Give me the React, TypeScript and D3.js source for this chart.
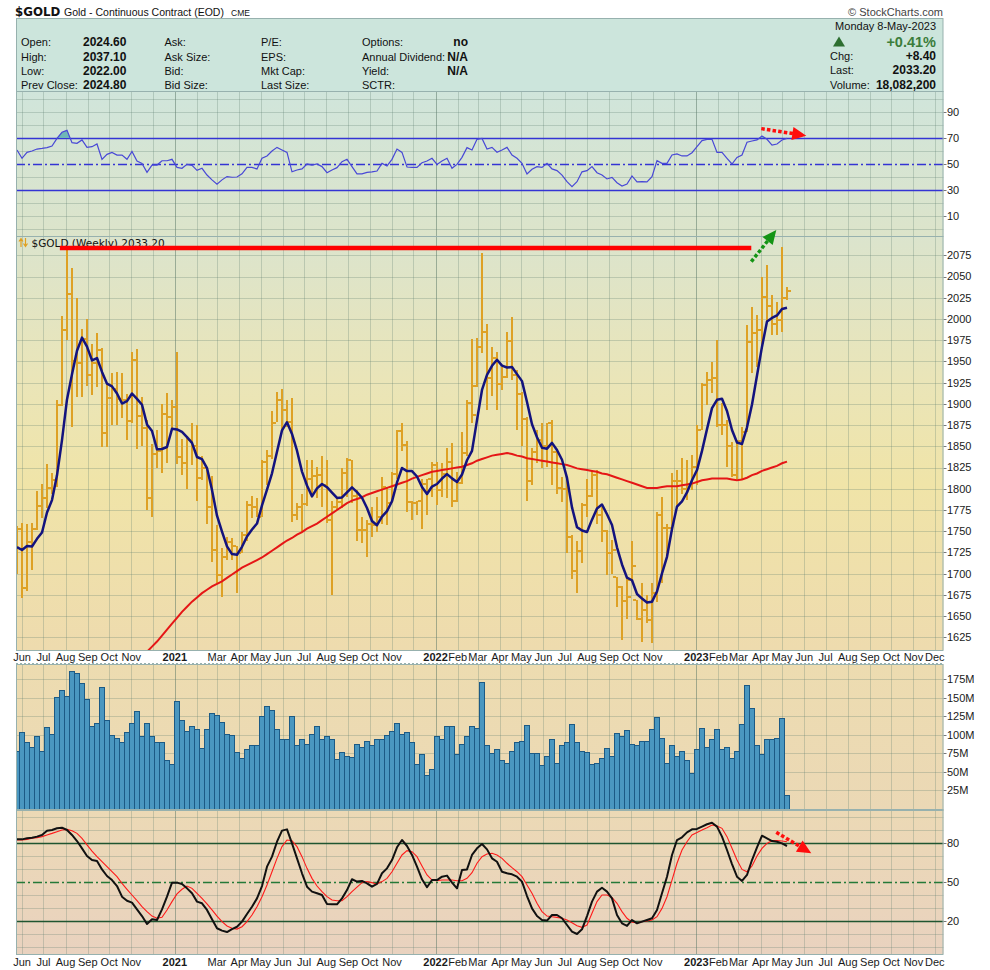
import React from "react";
import * as d3 from "d3";

// ---------- DATA (weekly bars, first week starting 2020-05-25) ----------
const FIRST_WEEK = "2020-05-25";

const opens = [1735,1752,1683,1737,1753,1780,1789,1801,1810,1899,
1987,2029,1950,1948,1976,1934,1948,1964,1866,1907,
1918,1906,1905,1880,1952,1886,1872,1789,1841,1844,
1888,1884,1896,1837,1830,1857,1850,1813,1824,1778,
1728,1698,1720,1737,1732,1724,1745,1781,1778,1767,
1831,1838,1877,1905,1893,1879,1769,1778,1782,1811,
1815,1816,1804,1763,1779,1784,1819,1834,1792,1751,
1751,1759,1757,1767,1802,1783,1817,1868,1852,1784,
1783,1785,1806,1811,1828,1798,1817,1832,1786,1807,
1842,1901,1921,1967,1985,1931,1954,1923,1932,1974,
1934,1912,1882,1809,1843,1857,1850,1877,1843,1801,
1800,1743,1703,1727,1781,1791,1816,1769,1750,1724,
1696,1684,1668,1692,1669,1647,1657,1645,1677,1769,
1754,1754,1809,1809,1800,1806,1826,1869,1922,1928,
1930,1875,1875,1850,1816,1856,1867,1973,1984,1987,
2026,2015,1994,1999,2024.6];

const highs = [1756,1760,1759,1760,1797,1806,1829,1819,1904,2004,
2081,2060,2025,1988,2000,1971,1983,1966,1924,1936,
1938,1936,1912,1961,1965,1908,1881,1853,1869,1900,
1913,1905,1961,1859,1862,1878,1875,1838,1826,1815,
1757,1730,1743,1742,1732,1749,1785,1792,1789,1834,
1846,1891,1914,1918,1905,1907,1783,1794,1834,1834,
1826,1838,1834,1786,1790,1824,1836,1834,1798,1767,
1763,1779,1790,1814,1802,1820,1869,1878,1856,1786,
1786,1812,1812,1832,1832,1830,1848,1854,1820,1867,
1904,1976,1977,2078,1994,1967,1961,1944,1985,2002,
1940,1914,1885,1848,1869,1877,1877,1881,1845,1814,
1814,1745,1738,1783,1812,1822,1822,1779,1751,1740,
1696,1686,1696,1738,1669,1689,1675,1689,1773,1790,
1759,1818,1822,1836,1834,1840,1875,1924,1938,1949,
1975,1901,1881,1855,1858,1873,1993,2014,2005,2050,
2064,2028,2020,2085,2037.1];

const lows = [1700,1671,1680,1704,1751,1765,1777,1794,1802,1898,
1975,1873,1908,1908,1921,1910,1920,1849,1849,1875,
1875,1883,1857,1878,1847,1850,1775,1767,1824,1819,
1830,1869,1829,1816,1800,1828,1785,1810,1759,1714,
1689,1673,1716,1716,1677,1724,1738,1765,1767,1767,
1804,1835,1879,1869,1873,1761,1763,1749,1780,1791,
1789,1779,1760,1675,1775,1777,1790,1783,1738,1736,
1720,1743,1749,1759,1757,1783,1812,1844,1773,1763,
1769,1752,1769,1790,1781,1790,1789,1779,1784,1806,
1838,1877,1920,1960,1893,1909,1893,1916,1930,1928,
1869,1850,1785,1805,1830,1824,1826,1804,1794,1784,
1724,1694,1677,1712,1767,1790,1759,1737,1698,1700,
1661,1622,1647,1690,1645,1620,1642,1618,1667,1689,
1718,1749,1777,1794,1787,1798,1804,1869,1899,1913,
1873,1863,1826,1814,1812,1812,1867,1936,1944,1965,
1996,1981,1981,1985,2022];

const closes = [1752,1683,1737,1753,1780,1789,1801,1810,1899,1987,
2029,1950,1948,1976,1934,1948,1964,1866,1907,1918,
1906,1905,1880,1952,1886,1872,1789,1841,1844,1888,
1884,1896,1837,1830,1857,1850,1813,1824,1778,1728,
1698,1720,1737,1732,1724,1745,1781,1778,1767,1831,
1838,1877,1905,1893,1879,1769,1778,1782,1811,1815,
1816,1804,1763,1779,1784,1819,1834,1792,1751,1751,
1759,1757,1767,1802,1783,1817,1868,1852,1784,1783,
1785,1806,1811,1828,1798,1817,1832,1786,1807,1842,
1901,1887,1967,1985,1931,1954,1923,1932,1974,1934,
1912,1882,1809,1843,1857,1850,1877,1843,1801,1800,
1743,1703,1727,1781,1791,1816,1769,1750,1724,1728,
1684,1668,1672,1709,1647,1657,1645,1677,1769,1754,
1754,1809,1809,1800,1806,1826,1869,1922,1928,1930,
1875,1875,1850,1816,1856,1867,1973,1984,1987,2026,
2015,1994,1999,2025,2033.2];

// closes of the 4 weeks before the first bar (warm-up for the 5-week average)
const priorCloses = [1700, 1713, 1756, 1735];

// volume in millions
const volumesM = [78,103,89,83,98,78,110,101,150,159,
152,185,183,169,148,111,115,164,119,99,
95,90,103,115,132,98,115,97,89,90,
66,60,145,119,105,111,107,82,107,129,
126,117,101,99,76,68,80,86,86,125,
138,133,107,94,93,125,85,94,87,101,
111,94,98,93,67,76,71,70,87,83,
91,86,94,93,99,105,115,101,103,90,
60,74,45,53,97,93,111,111,74,87,
98,111,109,171,85,75,80,65,61,78,
90,91,113,75,75,59,71,93,61,85,
89,114,89,78,76,60,61,68,82,71,
102,98,106,87,86,91,91,107,123,95,
61,85,71,78,66,48,80,109,83,94,
107,80,83,68,78,114,167,136,86,74,
94,93,95,122,18.08];

// long moving average (red), starting at bar 24
const longMAStart = 24;
const longMA = [1598,1602,1608,1614,1620,1627,1634,1641,1648,1655,
1661,1667,1672,1677,1681,1685,1688,1691,1695,1699,
1703,1707,1710,1713,1716,1719,1723,1727,1731,1735,
1739,1742,1746,1749,1753,1756,1759,1763,1767,1771,
1775,1779,1783,1786,1788,1790,1793,1795,1797,1799,
1801,1803,1805,1807,1809,1812,1814,1816,1818,1820,
1821,1822,1823,1824,1825,1826,1828,1830,1833,1835,
1837,1839,1840,1841,1842,1841,1839,1838,1836,1835,
1834,1833,1832,1831,1830,1829,1828,1826,1824,1823,
1822,1821,1820,1818,1817,1815,1813,1811,1809,1807,
1805,1803,1801,1801,1801,1802,1803,1803,1803,1804,
1805,1806,1808,1810,1811,1812,1812,1812,1812,1811,
1810,1811,1813,1816,1818,1821,1823,1825,1827,1830,
1832];

const rsiValues = [60.8,54.4,59,60,61.5,62,62.6,63.8,69.7,74.4,
75.9,66.4,65.9,68.5,62.8,63.3,65.4,53.6,57.4,58.9,
56.9,56.9,53.6,59.7,52.3,50.5,43.6,49.2,49.2,52.5,
52.5,53.6,47.4,46.7,49.7,49,45.1,46.7,41.5,37.8,
34.4,37.8,40.3,39.8,40,42.4,47.4,47.4,46.2,54.4,
56.2,60,62.8,60.8,58.9,44,45.4,46.2,50,49.2,
50,48,43.3,45.4,47.2,51.8,53.6,48,42.4,42.4,
43.6,44,44.6,50.5,48.5,53.6,61.5,58.9,47.7,47.4,
47.4,51,52.3,54.4,49.7,52.3,54.4,46.7,49.7,55.1,
62.6,60.8,69,69.7,61.5,62.8,59,60.8,62.8,56.9,
54.4,50.5,42.3,45.9,48,47.4,50.5,46.2,44.9,41.5,
36.4,32.6,36.4,44,44.9,48,43.3,41.5,38.5,39.7,
35.6,33.1,34.6,40.8,36.2,36.4,36.2,40.3,52.6,50.5,
50.5,56.9,57.7,56.2,56.2,58.7,63.3,68,69,69,
58.9,58.9,54.4,50,55.1,56.9,66.7,67.7,68.5,71.5,
69,64.6,65.4,68.5,69.7];

const stochK = [82.8,82.8,83.6,84.1,84.9,86.2,89.5,90,91.3,91.8,
90,86.2,81.5,75.9,70,66.9,66.2,59.7,54.6,51.5,
46.9,38.7,35.6,34.1,28.9,23.8,17.7,21.3,20.8,28.9,
38.7,49.5,49.5,48.5,45.1,41.3,34.9,33.6,28.5,21.3,
14.4,12.6,11.5,13.8,15.6,19.5,25.4,31,37.4,46.9,
61.8,69.5,81,89.5,90.5,79.7,68.2,56.7,46.4,42.6,
41.3,40,33.1,32.8,32.8,37.4,43.8,52.1,50.3,50.8,
49,46.4,48.5,56.7,60.5,66.9,76.7,82.3,77.7,70.8,
61.8,52.1,46,51.5,51.5,54.1,54.9,49.5,45.1,59.2,
59.7,70.8,75.9,79.2,75.1,68.2,65.6,57.9,56.7,55.9,
54.1,50.3,39.2,29.7,23.8,20.8,20.3,24.6,24.6,22.1,
16.9,11.8,10,13.6,23.8,34.9,42.6,45.6,42.6,37.4,
24.6,18.2,16.2,20.8,18.2,19.5,20.8,22.1,28.5,41.3,
54.1,70.8,82.3,84.4,88.2,90.5,90.8,92.6,94.4,95.6,
92.6,84.9,74.6,63.8,54.1,50.8,55.4,66.9,76.7,85.6,
83.6,81.5,81,79.7,77.7];

const stochD = [82.3,82.3,82.8,83.6,84.1,84.9,86.2,87.4,88.7,90,
90.5,89.5,87.4,83.6,78.5,73.8,69.5,65.6,61.8,57.9,
54.1,49,44.4,40,35.6,31,27.2,23.8,22.1,22.8,
28.5,34.9,40.8,44.4,46.9,45.1,41.3,37.4,33.1,28.5,
23.8,19.5,16.2,14.4,13.8,15.6,19.5,24.6,31,38.7,
47.7,57.9,68.2,77.2,82.3,81.8,77.2,69.5,60.5,52.8,
46.9,42.6,38.7,36.2,35.6,35.6,38.7,42.6,46,49.5,
50.3,49.5,48.5,50.3,52.8,57.9,64.4,70.8,74.1,73.3,
69.5,62.3,55.4,51.5,51,51.5,51.5,51.5,51,51,
52.8,57.2,64.4,69.5,71.5,72.1,70.8,68.2,64.4,61,
57.9,54.1,47.7,41.3,33.6,27.2,23.8,23.3,22.8,22.1,
20.8,18.7,16.4,15.1,16.9,25.9,34.9,40,40,38.2,
33.6,27.2,22.1,19,18.7,19.5,20,20.8,23.3,29.7,
38.7,51.5,64.4,74.6,81,86.2,88,90,91.8,93.8,
93.1,91.3,84.9,75.9,66.9,59.7,57.9,62.3,70,75.9,
79.7,81.8,81.8,81.5,81];

// month labels, Jun 2020 .. Dec 2023 ("" = label skipped)
const monthLabels = ["Jun","Jul","Aug","Sep","Oct","Nov","",
"2021","","Mar","Apr","May","Jun","Jul","Aug","Sep","Oct","Nov","",
"2022","Feb","Mar","Apr","May","Jun","Jul","Aug","Sep","Oct","Nov","",
"2023","Feb","Mar","Apr","May","Jun","Jul","Aug","Sep","Oct","Nov","Dec"];

const priceTicks = [2075,2050,2025,2000,1975,1950,1925,1900,1875,1850,1825,1800,1775,1750,1725,1700,1675,1650,1625];
const rsiTicks = [90,70,50,30,10];
const volTicks = [175,150,125,100,75,50,25];
const stochTicks = [80,50,20];

// annotations
const resistance = { price: 2083.6, from: "2020-07-24", to: "2023-03-19" };
const greenArrow = { from: ["2023-03-19", 2067.5], to: ["2023-04-23", 2104.8] };
const rsiArrow = { from: ["2023-04-02", 77.2], to: ["2023-06-04", 71.8] };
const stochArrow = { from: ["2023-04-23", 88.2], to: ["2023-06-11", 72.1] };

// ---------- LAYOUT ----------
const SANS = "'Liberation Sans', Arial, Helvetica, sans-serif";
const W = 990, H = 970, L = 16, R = 943.5;
const INFO_T = 18, INFO_B = 91;
const RSI_T = 91, RSI_B = 236;
const PR_T = 236, PR_B = 650;
const AX_B = 664;
const VOL_T = 664, VOL_B = 810;
const ST_T = 810, ST_B = 954;
const BORDER = "#97b1ae";
const GRID = "rgba(95,125,110,0.28)";
const GRID_YEAR = "rgba(85,115,100,0.5)";

function Arrow({ x1, y1, x2, y2, color }: { x1: number; y1: number; x2: number; y2: number; color: string }) {
  const a = Math.atan2(y2 - y1, x2 - x1);
  const c = Math.cos(a), s = Math.sin(a);
  const hl = 14, hw = 6.5;
  const bx = x2 - hl * c, by = y2 - hl * s;
  const pts = `${x2},${y2} ${bx - s * hw},${by + c * hw} ${bx + s * hw},${by - c * hw}`;
  return (
    <g>
      <line x1={x1} y1={y1} x2={bx + c} y2={by + s} stroke={color} strokeWidth={3.5} strokeDasharray="3.5 2.2" />
      <polygon points={pts} fill={color} />
    </g>
  );
}

export default function App() {
  const parse = d3.timeParse("%Y-%m-%d");
  const start = parse(FIRST_WEEK) as Date;
  const n = closes.length;
  const dates = closes.map((_, i) => d3.timeDay.offset(start, 7 * i));
  const x = d3.scaleTime().domain([dates[0], dates[n - 1]]).range([17, 787]);
  const xc = (i: number) => Math.round(x(dates[i]));
  const rsiY = d3.scaleLinear().domain([0, 100]).range([229, 99]);
  const pY = d3.scaleLinear().domain([1625, 2075]).range([637.3, 255.3]);
  const vY = d3.scaleLinear().domain([0, 175]).range([809, 679.1]);
  const sY = d3.scaleLinear().domain([0, 100]).range([947, 817]);

  const months = d3.timeMonth.range(new Date(2020, 5, 1), new Date(2024, 0, 1));
  const mx = (d: Date) => Math.round(x(d)) + 0.5;

  const allCloses = [...priorCloses, ...closes];
  const sma5 = closes.map((_, i) => d3.mean(allCloses.slice(i, i + 5)) as number);

  const priceLine = d3.line<number>().x((_, i) => x(dates[i])).y((v) => pY(v));
  const longLine = d3.line<number>().x((_, i) => x(dates[i + longMAStart])).y((v) => pY(v));
  const rsiLine = d3.line<number>().x((_, i) => x(dates[i])).y((v) => rsiY(v));
  const rsiArea = d3.area<number>().x((_, i) => x(dates[i])).y0(rsiY(70)).y1((v) => rsiY(v));
  const stLine = d3.line<number>().x((_, i) => x(dates[i])).y((v) => sY(v));

  const hy = (v: number) => Math.round(v) + 0.5;

  const vGrid = (t: number, b: number) =>
    months.map((d, k) => (
      <line key={k} x1={mx(d)} x2={mx(d)} y1={t} y2={b}
        stroke={d.getMonth() === 0 ? GRID_YEAR : GRID} strokeWidth={1} />
    ));

  const monthTexts = (yBase: number) =>
    months.map((d, k) =>
      monthLabels[k] ? (
        <text key={k} x={x(d)} y={yBase} textAnchor="middle" fontFamily={SANS}
          fontSize={11} fontWeight={d.getMonth() === 0 ? "bold" : "normal"} fill="#1a1a1a">
          {monthLabels[k]}
        </text>
      ) : null
    );

  const pd = (s: string) => parse(s) as Date;
  const axisText = (y: number, label: string, key: string | number) => (
    <g key={key}>
      <line x1={R} x2={R + 3} y1={hy(y)} y2={hy(y)} stroke="#777" />
      <text x={947} y={y} dy="0.36em" fontFamily={SANS} fontSize={11} fill="#1a1a1a">{label}</text>
    </g>
  );

  return (
    <svg width={W} height={H} viewBox={`0 0 ${W} ${H}`}
      style={{ position: "absolute", left: 0, top: 0, background: "#fff" }}>
      <defs>
        <linearGradient id="gRsi" gradientUnits="userSpaceOnUse" x1={0} y1={RSI_T} x2={0} y2={RSI_B}>
          <stop offset="0" stopColor="#d0e5db" />
          <stop offset="1" stopColor="#dce4ca" />
        </linearGradient>
        <linearGradient id="gPr" gradientUnits="userSpaceOnUse" x1={0} y1={PR_T} x2={0} y2={PR_B}>
          <stop offset="0" stopColor="#dbe4cd" />
          <stop offset="0.35" stopColor="#eae5b8" />
          <stop offset="0.6" stopColor="#f0e4a8" />
          <stop offset="1" stopColor="#eedbae" />
        </linearGradient>
        <linearGradient id="gVol" gradientUnits="userSpaceOnUse" x1={0} y1={VOL_T} x2={0} y2={VOL_B}>
          <stop offset="0" stopColor="#eddcb0" />
          <stop offset="1" stopColor="#ebd8b5" />
        </linearGradient>
        <linearGradient id="gSt" gradientUnits="userSpaceOnUse" x1={0} y1={ST_T} x2={0} y2={ST_B}>
          <stop offset="0" stopColor="#ecd9b5" />
          <stop offset="1" stopColor="#e9d2bf" />
        </linearGradient>
        <clipPath id="cPr"><rect x={L} y={PR_T} width={R - L} height={PR_B - PR_T} /></clipPath>
        <clipPath id="cRsi"><rect x={L} y={RSI_T} width={R - L} height={RSI_B - RSI_T} /></clipPath>
        <clipPath id="cRsiHi"><rect x={L} y={RSI_T} width={R - L} height={rsiY(70) - RSI_T} /></clipPath>
        <clipPath id="cVol"><rect x={L} y={VOL_T} width={R - L} height={VOL_B - VOL_T} /></clipPath>
        <clipPath id="cSt"><rect x={L} y={ST_T} width={R - L} height={ST_B - ST_T} /></clipPath>
      </defs>

      {/* header */}
      <text x={15} y={16} fontFamily="'DejaVu Sans', Verdana, sans-serif" fontSize={11.8} fontWeight="bold" fill="#111">$GOLD</text>
      <text x={64} y={15.5} fontFamily={SANS} fontSize={10.5} fill="#111">Gold - Continuous Contract (EOD)</text>
      <text x={231} y={15.5} fontFamily={SANS} fontSize={8.5} fill="#111">CME</text>
      <text x={943} y={15.5} textAnchor="end" fontFamily={SANS} fontSize={11} fill="#444">© StockCharts.com</text>

      {/* panels backgrounds */}
      <rect x={L} y={RSI_T} width={R - L} height={RSI_B - RSI_T} fill="url(#gRsi)" />
      <rect x={L} y={PR_T} width={R - L} height={PR_B - PR_T} fill="url(#gPr)" />
      <rect x={L} y={VOL_T} width={R - L} height={VOL_B - VOL_T} fill="url(#gVol)" />
      <rect x={L} y={ST_T} width={R - L} height={ST_B - ST_T} fill="url(#gSt)" />

      {/* info box */}
      <rect x={L + 0.5} y={INFO_T + 0.5} width={R - L - 1} height={INFO_B - INFO_T} fill="#cce5dc" stroke={BORDER} />
      <g fontFamily={SANS} fontSize={11} fill="#111">
        {[["Open:", "2024.60", 45.5], ["High:", "2037.10", 60.5], ["Low:", "2022.00", 75], ["Prev Close:", "2024.80", 89.3]].map(([a, b, y], k) => (
          <g key={k}>
            <text x={21} y={y as number}>{a}</text>
            <text x={83} y={y as number} fontWeight="bold" fontSize={12}>{b}</text>
          </g>
        ))}
        {[["Ask:", 45.5], ["Ask Size:", 60.5], ["Bid:", 75], ["Bid Size:", 89.3]].map(([a, y], k) => (
          <text key={"b" + k} x={164.5} y={y as number}>{a}</text>
        ))}
        {[["P/E:", 45.5], ["EPS:", 60.5], ["Mkt Cap:", 75], ["Last Size:", 89.3]].map(([a, y], k) => (
          <text key={"c" + k} x={261} y={y as number}>{a}</text>
        ))}
        {[["Options:", "no", 45.5], ["Annual Dividend:", "N/A", 60.5], ["Yield:", "N/A", 75], ["SCTR:", "", 89.3]].map(([a, b, y], k) => (
          <g key={"d" + k}>
            <text x={362} y={y as number}>{a}</text>
            <text x={468} y={y as number} textAnchor="end" fontWeight="bold" fontSize={12}>{b}</text>
          </g>
        ))}
        <text x={936} y={30} textAnchor="end">Monday  8-May-2023</text>
        <polygon points="833,46.5 839,36.5 845,46.5" fill="#2d6e30" />
        <text x={936} y={46.5} textAnchor="end" fontSize={14.5} fontWeight="bold" fill="#3b7d3b">+0.41%</text>
        <text x={830} y={59.5}>Chg:</text>
        <text x={936} y={59.5} textAnchor="end" fontWeight="bold" fontSize={12}>+8.40</text>
        <text x={830} y={74}>Last:</text>
        <text x={936} y={74} textAnchor="end" fontWeight="bold" fontSize={12}>2033.20</text>
        <text x={830} y={88.5}>Volume:</text>
        <text x={936} y={88.5} textAnchor="end" fontWeight="bold" fontSize={12}>18,082,200</text>
      </g>

      {/* ---------- RSI panel ---------- */}
      <g>
        {vGrid(INFO_B, RSI_B)}
        {d3.range(0, 101, 10).filter((v) => ![70, 50, 30].includes(v) && rsiY(v) > INFO_B).map((v) => (
          <line key={v} x1={L} x2={R} y1={hy(rsiY(v))} y2={hy(rsiY(v))} stroke={GRID} />
        ))}
        <line x1={L} x2={R} y1={hy(rsiY(70))} y2={hy(rsiY(70))} stroke="#3434d4" strokeWidth={1.5} />
        <line x1={L} x2={R} y1={hy(rsiY(30))} y2={hy(rsiY(30))} stroke="#3434d4" strokeWidth={1.5} />
        <line x1={L} x2={R} y1={hy(rsiY(50))} y2={hy(rsiY(50))} stroke="#3434d4" strokeWidth={1.3} strokeDasharray="9 3 2 3" />
        <g clipPath="url(#cRsi)">
          <path d={rsiArea(rsiValues) as string} fill="#6fb6b8" clipPath="url(#cRsiHi)" />
          <path d={rsiLine(rsiValues) as string} fill="none" stroke="#4848d6" strokeWidth={1.2} />
        </g>
        {rsiTicks.map((v) => axisText(rsiY(v), String(v), "r" + v))}
      </g>

      {/* ---------- Price panel ---------- */}
      <g>
        {vGrid(PR_T, PR_B)}
        {priceTicks.map((v) => (
          <line key={v} x1={L} x2={R} y1={hy(pY(v))} y2={hy(pY(v))} stroke={GRID} />
        ))}
        <g clipPath="url(#cPr)">
          <g fill="#dea125" shapeRendering="crispEdges">
            {closes.map((c, i) => {
              const cx = xc(i);
              const yH = pY(highs[i]), yL = pY(lows[i]);
              return (
                <g key={i}>
                  <rect x={cx - 1} y={yH} width={2} height={Math.max(1, yL - yH)} />
                  <rect x={cx - 4} y={Math.round(pY(opens[i])) - 1} width={3} height={2} />
                  <rect x={cx + 1} y={Math.round(pY(c)) - 1} width={3} height={2} />
                </g>
              );
            })}
          </g>
          <path d={longLine(longMA) as string} fill="none" stroke="#e51616" strokeWidth={2} />
          <path d={priceLine(sma5) as string} fill="none" stroke="#13137e" strokeWidth={2.5} strokeLinejoin="round" />
        </g>
        {priceTicks.map((v) => axisText(pY(v), String(v), "p" + v))}
        {/* label */}
        <path d="M21 247 V239.5 M19 241.5 L21 238.5 L23 241.5 M25.5 238 V245.5 M23.5 243.5 L25.5 246.5 L27.5 243.5"
          stroke="#e0a020" strokeWidth={1.2} fill="none" />
        <text x={31.5} y={247} fontFamily="'DejaVu Sans', Verdana, sans-serif" fontSize={10.5} fill="#111">$GOLD (Weekly) 2033.20</text>
        {/* resistance line */}
        <line x1={x(pd(resistance.from))} x2={x(pd(resistance.to))} y1={pY(resistance.price)} y2={pY(resistance.price)}
          stroke="#ff0000" strokeWidth={4.5} />
      </g>

      {/* price x-axis row */}
      <rect x={L} y={PR_B} width={R - L} height={AX_B - PR_B} fill="#fff" />
      <line x1={L} x2={R} y1={PR_B + 0.5} y2={PR_B + 0.5} stroke={BORDER} strokeDasharray="2 2" />
      <line x1={L} x2={R} y1={AX_B - 0.5} y2={AX_B - 0.5} stroke={BORDER} strokeDasharray="2 2" />
      {monthTexts(661)}

      {/* ---------- Volume panel ---------- */}
      <g>
        {vGrid(VOL_T, VOL_B)}
        {volTicks.map((v) => (
          <line key={v} x1={L} x2={R} y1={hy(vY(v))} y2={hy(vY(v))} stroke={GRID} />
        ))}
        <g clipPath="url(#cVol)" shapeRendering="crispEdges">
          {volumesM.map((v, i) => (
            <rect key={i} x={xc(i) - 2.5} y={vY(v)} width={5} height={vY(0) - vY(v)}
              fill="#4a97c0" stroke="#1c5a85" strokeWidth={1} />
          ))}
        </g>
        <line x1={L} x2={R} y1={hy(vY(0))} y2={hy(vY(0))} stroke={BORDER} />
        {volTicks.map((v) => axisText(vY(v), `${v}M`, "v" + v))}
      </g>

      {/* ---------- Stochastic panel ---------- */}
      <g>
        {vGrid(ST_T, ST_B)}
        {d3.range(0, 101, 10).filter((v) => ![80, 50, 20].includes(v)).map((v) => (
          <line key={v} x1={L} x2={R} y1={hy(sY(v))} y2={hy(sY(v))} stroke={GRID} />
        ))}
        <line x1={L} x2={R} y1={hy(sY(80))} y2={hy(sY(80))} stroke="#1f5530" strokeWidth={1.5} />
        <line x1={L} x2={R} y1={hy(sY(20))} y2={hy(sY(20))} stroke="#1f5530" strokeWidth={1.5} />
        <line x1={L} x2={R} y1={hy(sY(50))} y2={hy(sY(50))} stroke="#247a38" strokeWidth={1.3} strokeDasharray="9 3 2 3" />
        <g clipPath="url(#cSt)">
          <path d={stLine(stochD) as string} fill="none" stroke="#ff1a1a" strokeWidth={1.1} />
          <path d={stLine(stochK) as string} fill="none" stroke="#111" strokeWidth={2} strokeLinejoin="round" />
        </g>
        {stochTicks.map((v) => axisText(sY(v), String(v), "s" + v))}
      </g>
      {monthTexts(966)}

      {/* panel borders */}
      <g fill="none" stroke={BORDER} strokeWidth={1}>
        <rect x={L + 0.5} y={INFO_B + 0.5} width={R - L - 1} height={RSI_B - INFO_B} />
        <rect x={L + 0.5} y={PR_T + 0.5} width={R - L - 1} height={PR_B - PR_T} />
        <rect x={L + 0.5} y={VOL_T + 0.5} width={R - L - 1} height={VOL_B - VOL_T} />
        <rect x={L + 0.5} y={ST_T + 0.5} width={R - L - 1} height={ST_B - ST_T} />
      </g>

      {/* annotation arrows */}
      <Arrow x1={x(pd(greenArrow.from[0] as string))} y1={pY(greenArrow.from[1] as number)}
        x2={x(pd(greenArrow.to[0] as string))} y2={pY(greenArrow.to[1] as number)} color="#149414" />
      <Arrow x1={x(pd(rsiArrow.from[0] as string))} y1={rsiY(rsiArrow.from[1] as number)}
        x2={x(pd(rsiArrow.to[0] as string))} y2={rsiY(rsiArrow.to[1] as number)} color="#ff0d0d" />
      <Arrow x1={x(pd(stochArrow.from[0] as string))} y1={sY(stochArrow.from[1] as number)}
        x2={x(pd(stochArrow.to[0] as string))} y2={sY(stochArrow.to[1] as number)} color="#ff0d0d" />
    </svg>
  );
}
